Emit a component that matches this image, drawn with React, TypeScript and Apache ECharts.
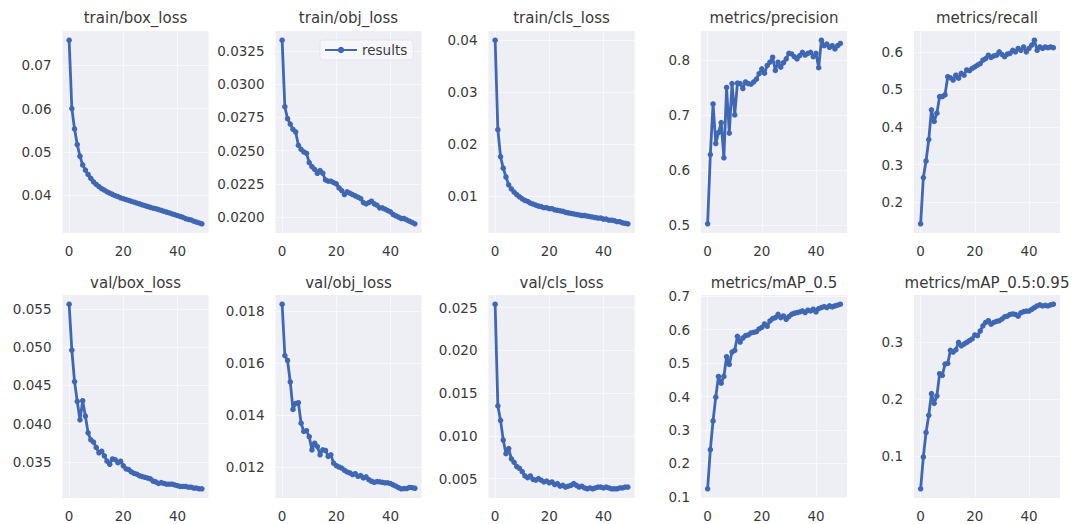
import React, { useEffect, useRef } from "react";
import * as echarts from "echarts";

// Training run: 50 epochs, ten logged quantities.
const epochs: number[] = Array.from({ length: 50 }, (_, i) => i);

const trainBoxLoss = [
  0.0758, 0.0600, 0.0553, 0.0517, 0.0490, 0.0470, 0.0458, 0.0448, 0.0439, 0.0431,
  0.0425, 0.0420, 0.0415, 0.0412, 0.0408, 0.0405, 0.0402, 0.0399, 0.0397, 0.0394,
  0.0392, 0.0390, 0.0388, 0.0386, 0.0384, 0.0382, 0.0380, 0.0378, 0.0376, 0.0374,
  0.0372, 0.0370, 0.0369, 0.0367, 0.0365, 0.0363, 0.0361, 0.0359, 0.0357, 0.0355,
  0.0353, 0.0351, 0.0349, 0.0346, 0.0344, 0.0343, 0.0340, 0.0338, 0.0336, 0.0334,
];

const trainObjLoss = [
  0.0333, 0.0283, 0.0274, 0.0270, 0.0266, 0.0264, 0.0254, 0.0251, 0.0249, 0.0248,
  0.0241, 0.0238, 0.0236, 0.0233, 0.0235, 0.0233, 0.0228, 0.0227, 0.0227, 0.0226,
  0.0225, 0.0222, 0.0220, 0.0217, 0.0219, 0.0218, 0.0217, 0.0216, 0.0215, 0.0214,
  0.0211, 0.0210, 0.0211, 0.0212, 0.0210, 0.0209, 0.0207, 0.0207, 0.0206, 0.0205,
  0.0204, 0.0202, 0.0201, 0.0200, 0.0199, 0.0199, 0.0198, 0.0197, 0.0196, 0.0195,
];

const trainClsLoss = [
  0.0400, 0.0228, 0.0176, 0.0154, 0.0137, 0.0122, 0.0114, 0.0108, 0.0103, 0.0099,
  0.0095, 0.0092, 0.0090, 0.0087, 0.0085, 0.0083, 0.0081, 0.0080, 0.0078, 0.0078,
  0.0076, 0.0076, 0.0074, 0.0073, 0.0072, 0.0071, 0.0069, 0.0068, 0.0067, 0.0066,
  0.0065, 0.0064, 0.0063, 0.0063, 0.0062, 0.0061, 0.0060, 0.0059, 0.0058, 0.0058,
  0.0056, 0.0056, 0.0054, 0.0054, 0.0053, 0.0051, 0.0051, 0.0049, 0.0048, 0.0047,
];

const precision = [
  0.502, 0.628, 0.720, 0.648, 0.668, 0.686, 0.622, 0.750, 0.667, 0.757,
  0.700, 0.758, 0.757, 0.748, 0.760, 0.757, 0.756, 0.760, 0.765, 0.775,
  0.784, 0.776, 0.790, 0.796, 0.805, 0.781, 0.796, 0.787, 0.795, 0.802,
  0.812, 0.811, 0.806, 0.802, 0.808, 0.814, 0.809, 0.812, 0.814, 0.806,
  0.812, 0.786, 0.836, 0.826, 0.829, 0.823, 0.826, 0.820, 0.826, 0.830,
];

const recall = [
  0.143, 0.266, 0.310, 0.367, 0.446, 0.415, 0.437, 0.481, 0.481, 0.486,
  0.534, 0.531, 0.525, 0.538, 0.530, 0.543, 0.538, 0.552, 0.550, 0.556,
  0.560, 0.565, 0.569, 0.578, 0.582, 0.591, 0.585, 0.589, 0.591, 0.600,
  0.593, 0.587, 0.594, 0.596, 0.604, 0.600, 0.609, 0.604, 0.613, 0.600,
  0.609, 0.618, 0.631, 0.604, 0.613, 0.609, 0.613, 0.611, 0.613, 0.611,
];

const valBoxLoss = [
  0.0556, 0.0496, 0.0455, 0.0429, 0.0405, 0.0430, 0.0410, 0.0388, 0.0379, 0.0376,
  0.0369, 0.0362, 0.0364, 0.0358, 0.0351, 0.0347, 0.0354, 0.0353, 0.0349, 0.0351,
  0.0345, 0.0341, 0.0340, 0.0337, 0.0335, 0.0334, 0.0332, 0.0331, 0.0330, 0.0329,
  0.0328, 0.0325, 0.0324, 0.0322, 0.0323, 0.0322, 0.0321, 0.0321, 0.0321, 0.0320,
  0.0319, 0.0318, 0.0318, 0.0318, 0.0317, 0.0317, 0.0316, 0.0316, 0.0315, 0.0315,
];

const valObjLoss = [
  0.01828, 0.01630, 0.01611, 0.01528, 0.01422, 0.01445, 0.01448, 0.01369, 0.01337, 0.01340,
  0.01317, 0.01266, 0.01292, 0.01279, 0.01247, 0.01266, 0.01264, 0.01241, 0.01247, 0.01215,
  0.01205, 0.01200, 0.01196, 0.01187, 0.01181, 0.01177, 0.01171, 0.01174, 0.01164, 0.01167,
  0.01158, 0.01162, 0.01151, 0.01145, 0.01141, 0.01144, 0.01143, 0.01141, 0.01139, 0.01139,
  0.01136, 0.01131, 0.01126, 0.01120, 0.01116, 0.01117, 0.01117, 0.01121, 0.01120, 0.01118,
];

const valClsLoss = [
  0.0254, 0.0135, 0.0118, 0.0095, 0.0079, 0.0085, 0.0073, 0.0069, 0.0064, 0.0062,
  0.0058, 0.0053, 0.0051, 0.0053, 0.0049, 0.0048, 0.0050, 0.0048, 0.0046, 0.0047,
  0.0045, 0.0046, 0.0043, 0.0044, 0.0041, 0.0042, 0.0040, 0.0041, 0.0042, 0.0044,
  0.0042, 0.0040, 0.0041, 0.0039, 0.0038, 0.0039, 0.0038, 0.0039, 0.0040, 0.0040,
  0.0039, 0.0040, 0.0039, 0.0038, 0.0038, 0.0038, 0.0039, 0.0039, 0.0040, 0.0040,
];

const mAP50 = [
  0.124, 0.241, 0.327, 0.398, 0.460, 0.440, 0.460, 0.519, 0.496, 0.533,
  0.538, 0.580, 0.563, 0.575, 0.582, 0.584, 0.590, 0.592, 0.594, 0.602,
  0.607, 0.617, 0.610, 0.626, 0.633, 0.636, 0.646, 0.636, 0.641, 0.631,
  0.639, 0.646, 0.649, 0.651, 0.653, 0.656, 0.651, 0.658, 0.656, 0.661,
  0.653, 0.663, 0.666, 0.669, 0.666, 0.671, 0.668, 0.671, 0.673, 0.676,
];

const mAP5095 = [
  0.043, 0.099, 0.142, 0.172, 0.210, 0.193, 0.206, 0.245, 0.242, 0.262,
  0.263, 0.286, 0.283, 0.287, 0.300, 0.294, 0.297, 0.300, 0.303, 0.306,
  0.313, 0.312, 0.320, 0.329, 0.335, 0.338, 0.332, 0.335, 0.337, 0.338,
  0.341, 0.345, 0.346, 0.349, 0.350, 0.349, 0.346, 0.352, 0.354, 0.355,
  0.355, 0.358, 0.361, 0.364, 0.366, 0.364, 0.365, 0.364, 0.366, 0.367,
];

const panelTitles = [
  "train/box_loss", "train/obj_loss", "train/cls_loss", "metrics/precision", "metrics/recall",
  "val/box_loss", "val/obj_loss", "val/cls_loss", "metrics/mAP_0.5", "metrics/mAP_0.5:0.95",
];

const panelValues = [
  trainBoxLoss, trainObjLoss, trainClsLoss, precision, recall,
  valBoxLoss, valObjLoss, valClsLoss, mAP50, mAP5095,
];

const yTickValues = [
  [0.04, 0.05, 0.06, 0.07],
  [0.02, 0.0225, 0.025, 0.0275, 0.03, 0.0325],
  [0.01, 0.02, 0.03, 0.04],
  [0.5, 0.6, 0.7, 0.8],
  [0.2, 0.3, 0.4, 0.5, 0.6],
  [0.035, 0.04, 0.045, 0.05, 0.055],
  [0.012, 0.014, 0.016, 0.018],
  [0.005, 0.01, 0.015, 0.02, 0.025],
  [0.1, 0.2, 0.3, 0.4, 0.5, 0.6, 0.7],
  [0.1, 0.2, 0.3],
];
const yDecimals = [2, 4, 2, 1, 1, 3, 3, 3, 1, 1];

const xTickValues = [0, 20, 40];

// Layout of the 2 x 5 panel grid (pixels)
const COL_LEFT = [62.5, 275.5, 488.5, 701, 914];
const ROW_TOP = [31, 295];
const ROW_H = [202, 203];
const PLOT_W = 146;
const TITLE_Y = [18, 283];

const FONT = "DejaVu Sans";
const LINE_COLOR = "#3f67b3";
const BG = "#eeeef5";
const GRID_LINE = "#f8f8fb";
const TEXT = "#3a3a3a";

function paddedRange(vals: number[]): [number, number] {
  const lo = Math.min(...vals);
  const hi = Math.max(...vals);
  const m = (hi - lo) * 0.05;
  return [lo - m, hi + m];
}

export default function App() {
  const ref = useRef<HTMLDivElement>(null);

  useEffect(() => {
    if (!ref.current) return;
    const chart = echarts.init(ref.current, undefined, { renderer: "svg" });

    const grids: any[] = [];
    const xAxes: any[] = [];
    const yAxes: any[] = [];
    const series: any[] = [];
    const graphics: any[] = [];

    const xSpan = epochs[epochs.length - 1] - epochs[0];

    panelValues.forEach((vals, i) => {
      const row = Math.floor(i / 5);
      const col = i % 5;
      const [ymin, ymax] = paddedRange(vals);
      grids.push({
        left: COL_LEFT[col],
        top: ROW_TOP[row],
        width: PLOT_W,
        height: ROW_H[row],
        show: true,
        backgroundColor: BG,
        borderWidth: 0,
        containLabel: false,
      });
      xAxes.push({
        type: "value",
        gridIndex: i,
        min: epochs[0] - xSpan * 0.05,
        max: epochs[epochs.length - 1] + xSpan * 0.05,
        axisLine: { show: false },
        axisTick: { show: false, customValues: xTickValues },
        axisLabel: {
          customValues: xTickValues,
          margin: 11,
          color: TEXT,
          fontFamily: FONT,
          fontSize: 13.5,
        },
        splitLine: { show: true, lineStyle: { color: GRID_LINE, width: 1 } },
      });
      yAxes.push({
        type: "value",
        gridIndex: i,
        min: ymin,
        max: ymax,
        axisLine: { show: false },
        axisTick: { show: false, customValues: yTickValues[i] },
        axisLabel: {
          customValues: yTickValues[i],
          margin: 11,
          color: TEXT,
          fontFamily: FONT,
          fontSize: 13.5,
          formatter: (v: number) => v.toFixed(yDecimals[i]),
        },
        splitLine: { show: true, lineStyle: { color: GRID_LINE, width: 1 } },
      });
      series.push({
        name: "results",
        type: "line",
        xAxisIndex: i,
        yAxisIndex: i,
        data: epochs.map((e, k) => [e, vals[k]]),
        symbol: "circle",
        symbolSize: 5.5,
        showSymbol: true,
        silent: true,
        color: LINE_COLOR,
        lineStyle: { color: LINE_COLOR, width: 2.8 },
        itemStyle: { color: LINE_COLOR },
      });
      graphics.push({
        type: "text",
        x: COL_LEFT[col] + PLOT_W / 2,
        y: TITLE_Y[row],
        style: {
          text: panelTitles[i],
          textAlign: "center",
          textVerticalAlign: "middle",
          fill: TEXT,
          font: `15px '${FONT}'`,
        },
      });
    });

    chart.setOption({
      animation: false,
      backgroundColor: "#ffffff",
      grid: grids,
      xAxis: xAxes,
      yAxis: yAxes,
      series,
      graphic: graphics,
      legend: {
        data: ["results"],
        left: 320,
        top: 40,
        itemWidth: 32,
        itemHeight: 8,
        itemGap: 6,
        padding: [3, 6, 3, 4],
        backgroundColor: "rgba(255,255,255,0.55)",
        borderColor: "rgba(225,225,230,0.8)",
        borderWidth: 1,
        borderRadius: 3,
        textStyle: { color: TEXT, fontFamily: FONT, fontSize: 13.5 },
      },
    });

    return () => chart.dispose();
  }, []);

  return (
    <div
      ref={ref}
      style={{ position: "absolute", left: 0, top: 0, width: 1074, height: 524 }}
    />
  );
}
